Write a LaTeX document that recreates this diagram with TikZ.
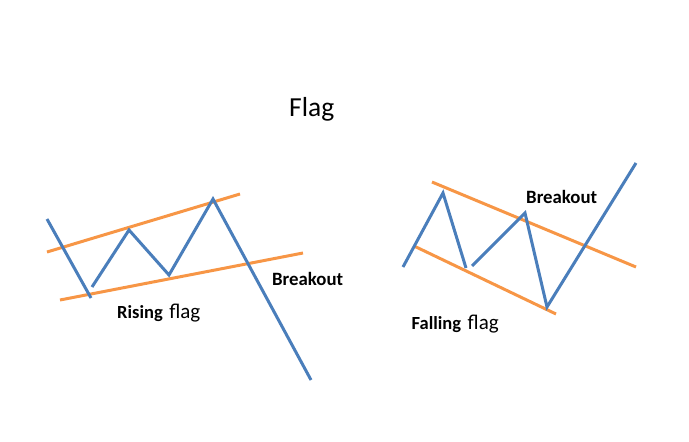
\documentclass[tikz,border=0pt]{standalone}
\usepackage{fontspec}
\setmainfont{Carlito}
\definecolor{flagblue}{HTML}{4A7EBB}
\definecolor{flagorange}{HTML}{F79646}
\tikzset{
  price/.style={draw=flagblue, line width=3pt, line join=miter},
  bound/.style={draw=flagorange, line width=3pt},
  lbl/.style={inner sep=0pt, anchor=base west, text=black},
}
\newcommand{\flaglabel}[1]{{\fontsize{18.5}{20}\selectfont\bfseries #1}\hspace{6.5pt}{\fontsize{21}{23}\selectfont flag}}
\begin{document}
\begin{tikzpicture}[x=1pt, y=-1pt]
\useasboundingbox (0,0) rectangle (689,442);
% title
\node[lbl, font=\fontsize{27.5}{30}\selectfont] (title) at (289,116.5) {Flag};

% ---- rising flag ----
\coordinate (ru1) at (47,252);  \coordinate (ru2) at (240,194);
\coordinate (rl1) at (60,300);  \coordinate (rl2) at (303,253);
\draw[bound] (ru1) -- (ru2);
\draw[bound] (rl1) -- (rl2);
\coordinate (ra) at (47,219); \coordinate (rb) at (91,298);
\coordinate (rc) at (92,287); \coordinate (rd) at (129,230);
\coordinate (re) at (169,275); \coordinate (rf) at (213,199);
\coordinate (rg) at (311,380);
\draw[price] (ra) -- (rb);
\draw[price] (rc) -- (rd) -- (re) -- (rf) -- (rg);
\node[lbl, font=\bfseries\fontsize{18.8}{20}\selectfont] (rbreak) at (272,285.5) {Breakout};
\node[lbl] (rising) at (117,318.6) {\flaglabel{Rising}};

% ---- falling flag ----
\coordinate (fu1) at (432,182); \coordinate (fu2) at (636,267);
\coordinate (fl1) at (414,246); \coordinate (fl2) at (556,314);
\draw[bound] (fu1) -- (fu2);
\draw[bound] (fl1) -- (fl2);
\coordinate (fa) at (403,267); \coordinate (fb) at (443,193);
\coordinate (fc) at (466,268);
\coordinate (fd) at (472,266); \coordinate (fe) at (525,213);
\coordinate (ff) at (547,307); \coordinate (fg) at (636,163);
\draw[price] (fa) -- (fb) -- (fc);
\draw[price] (fd) -- (fe) -- (ff) -- (fg);
\node[lbl, font=\bfseries\fontsize{18.8}{20}\selectfont] (fbreak) at (526,203.3) {Breakout};
\node[lbl] (falling) at (411.5,329.3) {\flaglabel{Falling}};
\end{tikzpicture}
\end{document}
